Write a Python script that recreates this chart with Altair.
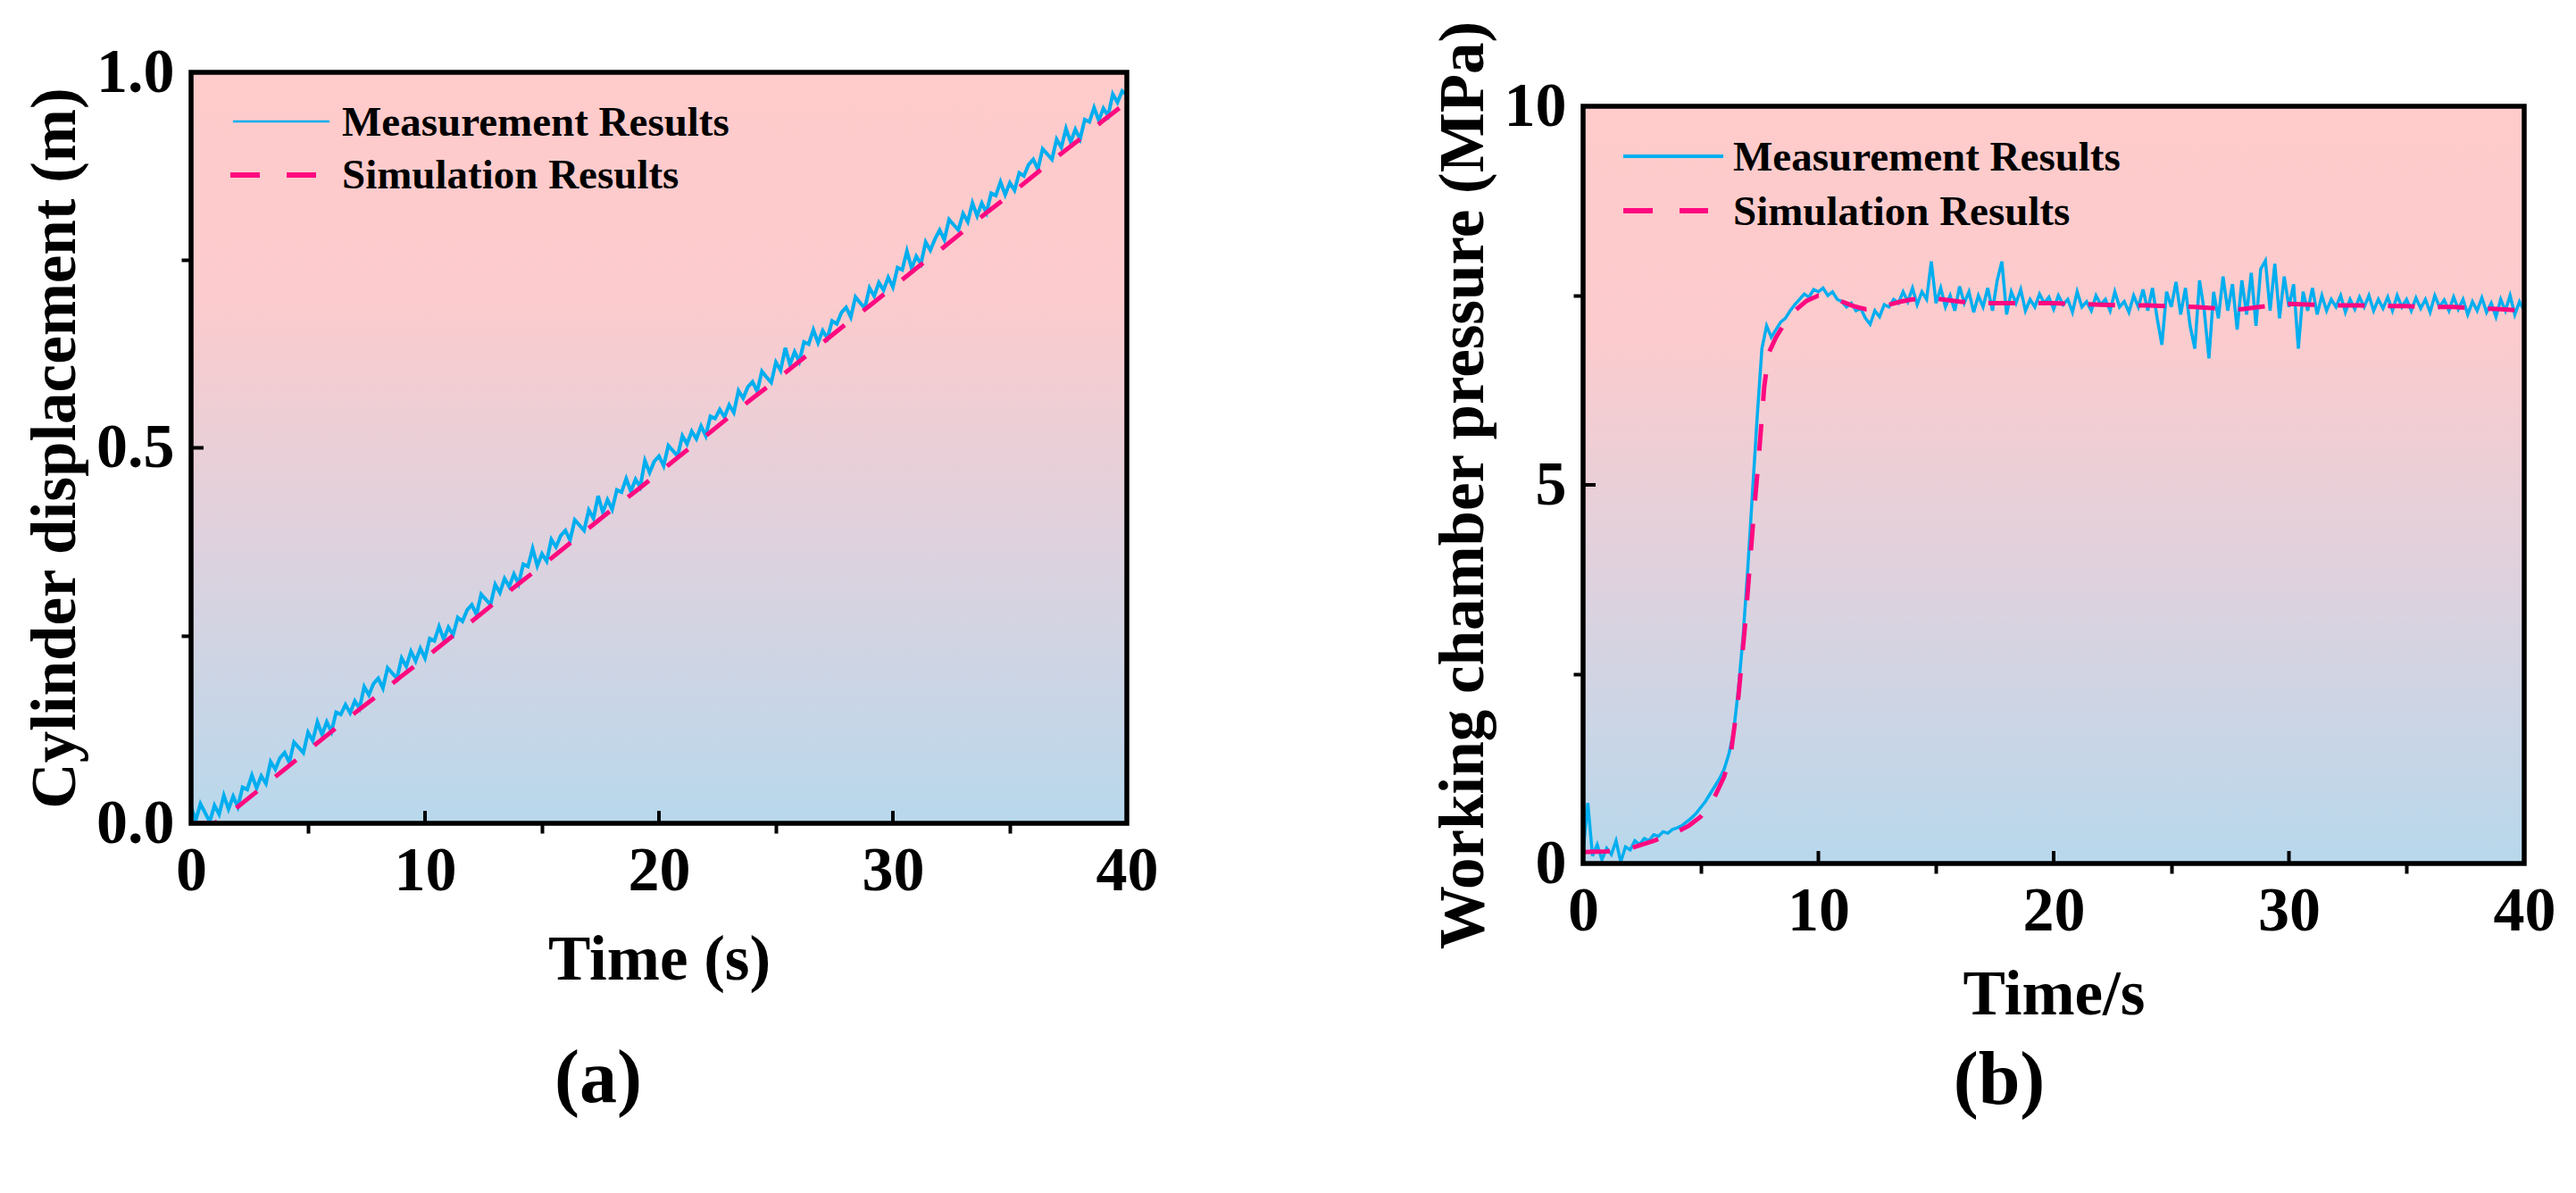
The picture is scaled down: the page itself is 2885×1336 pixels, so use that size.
import altair as alt
import pandas as pd

# ---------------- Panel (a): cylinder displacement ----------------
disp_meas_step = 0.2
disp_meas = [
    0.022, 0.004, 0.026, 0.014, 0.002,
    0.024, 0.012, 0.037, 0.019, 0.036,
    0.022, 0.048, 0.045, 0.064, 0.047,
    0.063, 0.053, 0.082, 0.072, 0.087,
    0.094, 0.081, 0.108, 0.101, 0.094,
    0.121, 0.110, 0.135, 0.118, 0.135,
    0.122, 0.148, 0.145, 0.158, 0.147,
    0.163, 0.153, 0.182, 0.171, 0.186,
    0.193, 0.180, 0.207, 0.200, 0.193,
    0.220, 0.209, 0.229, 0.216, 0.233,
    0.220, 0.246, 0.243, 0.262, 0.245,
    0.261, 0.251, 0.274, 0.269, 0.284,
    0.291, 0.278, 0.305, 0.298, 0.291,
    0.318, 0.307, 0.326, 0.315, 0.332,
    0.319, 0.345, 0.342, 0.366, 0.343,
    0.359, 0.349, 0.378, 0.368, 0.383,
    0.390, 0.377, 0.404, 0.397, 0.390,
    0.417, 0.406, 0.436, 0.414, 0.431,
    0.418, 0.444, 0.441, 0.459, 0.442,
    0.458, 0.448, 0.483, 0.467, 0.482,
    0.489, 0.476, 0.503, 0.496, 0.489,
    0.516, 0.505, 0.522, 0.512, 0.529,
    0.516, 0.542, 0.539, 0.551, 0.541,
    0.557, 0.547, 0.576, 0.566, 0.581,
    0.588, 0.575, 0.602, 0.594, 0.587,
    0.614, 0.603, 0.633, 0.611, 0.628,
    0.615, 0.641, 0.638, 0.657, 0.640,
    0.656, 0.646, 0.669, 0.665, 0.680,
    0.687, 0.674, 0.701, 0.693, 0.686,
    0.713, 0.702, 0.720, 0.710, 0.727,
    0.714, 0.740, 0.737, 0.762, 0.739,
    0.755, 0.745, 0.774, 0.763, 0.778,
    0.790, 0.777, 0.804, 0.797, 0.790,
    0.812, 0.801, 0.826, 0.809, 0.826,
    0.813, 0.839, 0.836, 0.854, 0.837,
    0.853, 0.843, 0.866, 0.862, 0.877,
    0.884, 0.871, 0.898, 0.891, 0.884,
    0.911, 0.900, 0.925, 0.907, 0.924,
    0.911, 0.937, 0.934, 0.953, 0.936,
    0.952, 0.942, 0.971, 0.960, 0.975,
    0.970,
]
disp_sim_t = [0, 1, 2, 3, 4, 5, 6, 7, 8, 9, 10, 11, 12, 13, 14, 15, 16, 17, 18, 19, 20,
              21, 22, 23, 24, 25, 26, 27, 28, 29, 30, 31, 32, 33, 34, 35, 36, 37, 38, 39, 40]
disp_sim = [0.000, 0.000, 0.022, 0.047, 0.072, 0.097, 0.122, 0.147, 0.171, 0.196, 0.220,
            0.245, 0.269, 0.294, 0.319, 0.343, 0.368, 0.393, 0.418, 0.442, 0.467,
            0.492, 0.516, 0.541, 0.566, 0.590, 0.615, 0.640, 0.665, 0.689, 0.714,
            0.739, 0.763, 0.788, 0.813, 0.837, 0.862, 0.887, 0.911, 0.936, 0.960]

# ---------------- Panel (b): working chamber pressure ----------------
pres_meas_step = 0.2
pres_meas = [
    0.15, 0.80, 0.10, 0.25, 0.05, 0.20, 0.12, 0.30, 0.02, 0.22,
    0.18, 0.30, 0.25, 0.33, 0.30, 0.38, 0.36, 0.42, 0.40, 0.45,
    0.47, 0.50, 0.55, 0.60, 0.66, 0.74, 0.82, 0.92, 1.02, 1.12,
    1.25, 1.45, 1.75, 2.30, 3.00, 3.90, 4.90, 5.90, 6.80, 7.10,
    6.95, 7.05, 7.15, 7.20, 7.30, 7.38, 7.45, 7.52, 7.48, 7.58,
    7.55, 7.60, 7.50, 7.55, 7.45, 7.42, 7.35, 7.40, 7.30, 7.33,
    7.20, 7.12, 7.30, 7.22, 7.38, 7.35, 7.45, 7.40, 7.55, 7.42,
    7.60, 7.38, 7.55, 7.45, 7.95, 7.40, 7.60, 7.35, 7.50, 7.30,
    7.62, 7.40, 7.55, 7.28, 7.50, 7.35, 7.60, 7.30, 7.70, 7.95,
    7.25, 7.55, 7.40, 7.58, 7.30, 7.45, 7.35, 7.52, 7.40, 7.48,
    7.32, 7.50, 7.38, 7.45, 7.28, 7.55, 7.35, 7.42, 7.30, 7.50,
    7.38, 7.45, 7.30, 7.55, 7.35, 7.42, 7.28, 7.50, 7.35, 7.58,
    7.30, 7.60, 7.20, 6.85, 7.55, 7.35, 7.68, 7.25, 7.60, 7.10,
    6.80, 7.70, 7.30, 6.67, 7.55, 7.20, 7.75, 7.30, 7.65, 7.05,
    7.70, 7.25, 7.80, 7.10, 7.85, 7.96, 7.30, 7.92, 7.20, 7.75,
    7.35, 7.65, 6.80, 7.55, 7.30, 7.60, 7.25, 7.50, 7.30, 7.45,
    7.35, 7.50, 7.28, 7.45, 7.32, 7.48, 7.35, 7.50, 7.30, 7.45,
    7.33, 7.48, 7.30, 7.50, 7.35, 7.45, 7.30, 7.47, 7.33, 7.45,
    7.28, 7.50, 7.35, 7.44, 7.30, 7.48, 7.32, 7.45, 7.25, 7.42,
    7.30, 7.47, 7.28, 7.40, 7.22, 7.45, 7.30, 7.50, 7.25, 7.42,
    7.30,
]
pres_sim_t = [0, 1, 2, 3, 4, 4.5, 5, 5.5, 6, 6.3, 6.6, 6.9, 7.2, 7.5, 7.7, 7.9, 8.2, 8.6, 9.0,
              9.5, 10, 10.5, 11, 11.5, 12, 12.5, 13, 13.5, 14, 15, 16, 17, 18, 19, 20, 21,
              22, 23, 24, 25, 26, 27, 28, 29, 30, 31, 32, 33, 34, 35, 36, 37, 38, 39, 40]
pres_sim = [0.15, 0.16, 0.20, 0.30, 0.42, 0.50, 0.62, 0.82, 1.15, 1.50, 2.20, 3.20, 4.40,
            5.50, 6.30, 6.75, 6.95, 7.15, 7.30, 7.43, 7.50, 7.48, 7.42, 7.36, 7.32, 7.33,
            7.38, 7.42, 7.45, 7.46, 7.42, 7.40, 7.40, 7.40, 7.40, 7.39, 7.38, 7.37, 7.37,
            7.36, 7.35, 7.33, 7.32, 7.36, 7.39, 7.38, 7.37, 7.37, 7.36, 7.36, 7.35, 7.35,
            7.33, 7.32, 7.30]

# ---------------- axes / text ----------------
x_ticks = [0, 5, 10, 15, 20, 25, 30, 35, 40]
x_labels = [0, 10, 20, 30, 40]
x_inner = [10, 20, 30]
a_y_ticks = [0, 0.25, 0.5, 0.75, 1.0]
a_y_labels = [0, 0.5, 1.0]
a_y_inner = [0.5]
b_y_ticks = [0, 2.5, 5, 7.5, 10]
b_y_labels = [0, 5, 10]
b_y_inner = [5]
legend_labels = ["Measurement Results", "Simulation Results"]
panel_labels = ["(a)", "(b)"]
x_titles = ["Time (s)", "Time/s"]
y_titles = ["Cylinder displacement (m)", "Working chamber pressure (MPa)"]

FONT = "Liberation Serif"
BLUE = "#00AEEF"
PINK = "#FF0A80"
GRAD = alt.LinearGradient(
    gradient="linear",
    stops=[alt.GradientStop(color="#FFCBCB", offset=0),
           alt.GradientStop(color="#FCCBCD", offset=0.3),
           alt.GradientStop(color="#DCD2DF", offset=0.65),
           alt.GradientStop(color="#B8D8EC", offset=1)],
    x1=0, x2=0, y1=0, y2=1)


def axis_common(**kw):
    base = dict(domain=False, grid=False, ticks=True, tickColor="black", tickWidth=4,
                tickSize=11, labelFont=FONT, labelFontSize=70, labelFontWeight="bold",
                labelColor="black", labelFlush=False, labelOverlap=False,
                titleFont=FONT, titleFontSize=71, titleFontWeight="bold",
                titleColor="black", titleBaseline="alphabetic")
    base.update(kw)
    return alt.Axis(**base)


def make_panel(W, H, meas_step, meas_v, sim_t, sim_v, ydom, yticks, ylabels, yinner,
               yfmt, xtitle, ytitle, ytitle_x, xtitle_y, meas_w, leg_w, leg, plabel,
               plabel_xy):
    xtest = f"indexof({x_labels}, datum.value) >= 0"
    ytest = f"indexof({ylabels}, datum.value) >= 0"
    x_enc = alt.X("t:Q", scale=alt.Scale(domain=[0, 40], nice=False, zero=False),
                  axis=axis_common(values=x_ticks, format="d", labelPadding=8,
                                   labelExpr=f"{xtest} ? datum.label : ''",
                                   tickOpacity={"condition": {"test": xtest, "value": 0}, "value": 1},
                                   title=xtitle, titleX=W / 2, titleY=xtitle_y))
    y_enc = alt.Y("v:Q", scale=alt.Scale(domain=ydom, nice=False, zero=False),
                  axis=axis_common(values=yticks, format=yfmt, labelPadding=8,
                                   labelExpr=f"{ytest} ? datum.label : ''",
                                   tickOpacity={"condition": {"test": ytest, "value": 0}, "value": 1},
                                   title=ytitle, titleX=ytitle_x, titleY=H / 2))

    one = pd.DataFrame({"k": [0]})
    bg = alt.Chart(one).mark_rect(color=GRAD).encode(
        x=alt.value(0), x2=alt.value(W), y=alt.value(0), y2=alt.value(H))

    meas_df = pd.DataFrame({"t": [round(i * meas_step, 3) for i in range(len(meas_v))],
                            "v": meas_v})
    sim_df = pd.DataFrame({"t": sim_t, "v": sim_v})
    meas = alt.Chart(meas_df).mark_line(color=BLUE, strokeWidth=meas_w, clip=True).encode(
        x=x_enc, y=y_enc)
    sim = alt.Chart(sim_df).mark_line(color=PINK, strokeWidth=5, strokeDash=[30, 26],
                                      clip=True).encode(x=x_enc, y=y_enc)

    xt = alt.Chart(pd.DataFrame({"t": x_inner})).mark_rule(color="black", strokeWidth=4).encode(
        x=x_enc, y=alt.value(H - 14), y2=alt.value(H))
    yt = alt.Chart(pd.DataFrame({"v": yinner})).mark_rule(color="black", strokeWidth=4).encode(
        y=y_enc, x=alt.value(0), x2=alt.value(14))

    frame = alt.Chart(one).mark_rect(filled=False, stroke="black", strokeWidth=5.5).encode(
        x=alt.value(0), x2=alt.value(W), y=alt.value(0), y2=alt.value(H))

    (bx0, bx1, px0, px1, ry0, ry1, tx, ty0, ty1) = leg
    l_meas = alt.Chart(one).mark_rule(color=BLUE, strokeWidth=leg_w).encode(
        x=alt.value(bx0), x2=alt.value(bx1), y=alt.value(ry0))
    l_sim = alt.Chart(one).mark_rule(color=PINK, strokeWidth=6, strokeDash=[33, 30]).encode(
        x=alt.value(px0), x2=alt.value(px1), y=alt.value(ry1))
    l_txt0 = alt.Chart(pd.DataFrame({"label": [legend_labels[0]]})).mark_text(
        font=FONT, fontSize=47, fontWeight="bold", color="black", align="left",
        baseline="middle").encode(text="label:N", x=alt.value(tx), y=alt.value(ty0))
    l_txt1 = alt.Chart(pd.DataFrame({"label": [legend_labels[1]]})).mark_text(
        font=FONT, fontSize=47, fontWeight="bold", color="black", align="left",
        baseline="middle").encode(text="label:N", x=alt.value(tx), y=alt.value(ty1))

    plab = alt.Chart(pd.DataFrame({"label": [plabel]})).mark_text(
        font=FONT, fontSize=84, fontWeight="bold", color="black", align="center",
        baseline="middle").encode(text="label:N", x=alt.value(plabel_xy[0]),
                                  y=alt.value(plabel_xy[1]))

    return alt.layer(bg, meas, sim, xt, yt, frame, l_meas, l_sim, l_txt0, l_txt1, plab).properties(
        width=W, height=H)


WA, HA = 1048, 841
WB, HB = 1054, 848

panel_a = make_panel(WA, HA, disp_meas_step, disp_meas, disp_sim_t, disp_sim, [0, 1],
                     a_y_ticks, a_y_labels, a_y_inner, ".1f", x_titles[0], y_titles[0],
                     -131, 174, 4, 2.5,
                     (47, 155, 44, 140, 55, 115, 169, 57, 116),
                     panel_labels[0], (456, 1128))
panel_b = make_panel(WB, HB, pres_meas_step, pres_meas, pres_sim_t, pres_sim, [0, 10],
                     b_y_ticks, b_y_labels, b_y_inner, "d", x_titles[1], y_titles[1],
                     -113, 168, 3.5, 4,
                     (45, 157, 45, 140, 56, 117, 168, 58, 119),
                     panel_labels[1], (466, 1092))

spacer = alt.Chart(pd.DataFrame({"s": [0]})).mark_point(opacity=0).encode(
    x=alt.X("s:Q", axis=None), y=alt.Y("s:Q", axis=None)).properties(width=10, height=38)

right = alt.vconcat(spacer, panel_b, spacing=0, bounds="flush")

chart = alt.hconcat(panel_a, right, spacing=304).properties(
    padding={"left": 17, "top": 14, "right": 5, "bottom": 5},
    background="white",
).configure_view(stroke="transparent")

chart.save("out.html", embed_options={"renderer": "svg", "actions": False})
